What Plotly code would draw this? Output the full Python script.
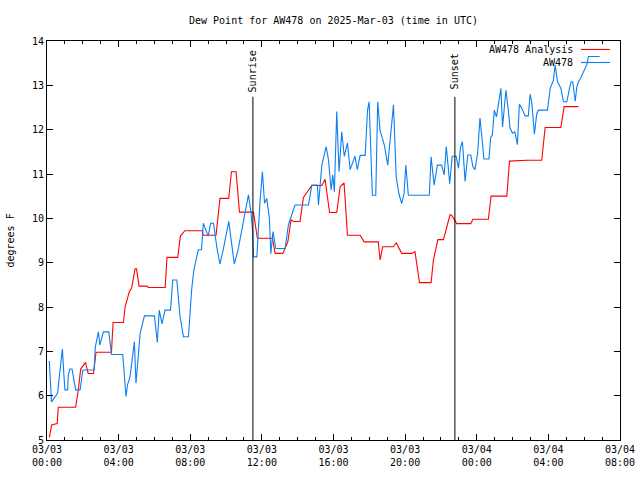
import pandas as pd
import plotly.graph_objects as go

BASE = pd.Timestamp("2025-03-03 00:00")

# Analysis (red): hours since 03/03 00:00 UTC, dew point (F)
analysis_hours = [0.13, 0.26, 0.57, 0.63, 1.6, 1.75, 1.88, 2.15, 2.3, 2.6, 2.65, 2.74, 3.6, 3.69, 4.27, 4.36,
                  4.6, 4.72, 4.92, 5.0, 5.14, 5.6, 5.65, 6.6, 6.7, 7.3, 7.45, 7.7, 8.68, 8.72, 9.44, 9.66,
                  10.15, 10.3, 10.56, 10.75, 11.53, 11.75, 12.59, 12.74, 13.17, 13.45, 13.63, 13.75, 14.13,
                  14.32, 14.79, 15.35, 15.53, 15.78, 16.18, 16.37, 16.59, 16.78, 17.49, 17.71, 18.5, 18.6,
                  18.75, 19.35, 19.5, 19.81, 20.37, 20.55, 20.8, 21.45, 21.58, 21.83, 22.14, 22.51, 22.6,
                  22.88, 23.67, 23.78, 24.65, 24.8, 25.68, 25.83, 26.8, 27.63, 27.82, 28.7, 28.88, 29.68]
analysis_vals = [5.06, 5.34, 5.37, 5.74, 5.74, 6.13, 6.6, 6.75, 6.5, 6.5, 6.68, 6.98, 6.98, 7.65, 7.65, 8.0,
                 8.35, 8.42, 8.86, 8.86, 8.47, 8.47, 8.44, 8.44, 9.12, 9.12, 9.6, 9.72, 9.72, 9.62, 9.62, 10.45,
                 10.45, 11.05, 11.05, 10.14, 10.14, 9.55, 9.55, 9.21, 9.21, 9.47, 9.97, 9.93, 9.93,
                 10.47, 10.74, 10.74, 10.88, 10.13, 10.13, 10.71, 10.8, 9.62, 9.62, 9.47, 9.47, 9.06,
                 9.36, 9.36, 9.45, 9.21, 9.21, 9.25, 8.55, 8.55, 9.06, 9.52, 9.52, 10.08, 10.07,
                 9.88, 9.88, 9.98, 9.98, 10.5, 10.5, 11.29, 11.31, 11.31, 12.05, 12.05, 12.52, 12.52]

# Observations (blue)
obs_hours = [0.13, 0.25, 0.5, 0.6, 0.69, 0.8, 0.86, 0.96, 1.0, 1.15, 1.19, 1.28, 1.4, 1.6, 1.85, 2.0, 2.63,
             2.7, 2.87, 2.95, 3.15, 3.45, 3.6, 4.23, 4.41, 4.5, 4.64, 4.88, 4.97, 5.2, 5.44, 6.0, 6.16,
             6.27, 6.42, 6.59, 6.9, 7.02, 7.25, 7.43, 7.62, 7.9, 8.08, 8.2, 8.45, 8.63, 8.73, 9.0, 9.14,
             9.3, 9.48, 9.66, 9.84, 10.15, 10.46, 10.67, 10.97, 11.25, 11.4, 11.49, 11.53, 11.72, 11.9,
             12.03, 12.15, 12.27, 12.42, 12.5, 12.62, 12.78, 13.3, 13.48, 13.85, 14.6, 14.79, 15.1, 15.16,
             15.35, 15.59, 15.72, 15.87, 15.96, 16.05, 16.18, 16.31, 16.46, 16.6, 16.78, 16.93, 17.2,
             17.33, 17.49, 17.77, 17.9, 17.99, 18.17, 18.36, 18.47, 18.6, 18.84, 19.03, 19.2, 19.35,
             19.5, 19.65, 19.81, 19.94, 20.04, 20.18, 21.35, 21.45, 21.62, 21.8, 22.04, 22.18, 22.3,
             22.49, 22.63, 22.85, 22.98, 23.1, 23.2, 23.35, 23.5, 23.67, 23.78, 23.9, 24.05, 24.18,
             24.3, 24.4, 24.68, 24.78, 24.87, 24.98, 25.1, 25.26, 25.35, 25.44, 25.54, 25.63, 25.76,
             25.86, 26.0, 26.13, 26.27, 26.38, 26.5, 26.7, 26.88, 26.98, 27.07, 27.22, 27.35, 27.44,
             27.95, 28.1, 28.28, 28.38, 28.51, 28.7, 28.84, 29.03, 29.18, 29.27, 29.36, 29.5, 29.59,
             29.68, 29.8, 29.96, 30.14, 30.24, 30.86]
obs_vals = [6.78, 5.86, 6.0, 6.07, 6.44, 6.8, 7.05, 6.36, 6.13, 6.13, 6.47, 6.6, 6.6, 6.13, 6.13, 6.58, 6.58,
            7.1, 7.44, 7.14, 7.44, 7.44, 6.93, 6.93, 5.98, 6.25, 6.43, 7.22, 6.28, 7.4, 7.8, 7.8, 7.2,
            7.93, 7.62, 7.93, 7.93, 8.61, 8.61, 7.78, 7.33, 7.33, 8.4, 8.83, 9.29, 9.29, 9.89, 9.6, 9.89,
            9.89, 9.36, 8.97, 9.29, 9.93, 8.97, 9.29, 9.93, 10.53, 10.1, 9.7, 9.13, 9.13, 10.41,
            11.05, 10.34, 10.45, 10.0, 9.2, 9.7, 9.32, 9.32, 9.85, 10.3, 10.3, 10.75, 10.75, 10.3,
            11.2, 11.62, 11.32, 10.64, 10.98, 10.6, 12.41, 11.05, 11.95, 11.4, 11.7, 11.1, 11.4,
            11.1, 11.42, 11.42, 12.44, 12.63, 10.52, 10.52, 12.63, 11.98, 11.65, 11.2, 11.95, 12.56,
            10.94, 10.56, 10.33, 10.56, 11.2, 10.52, 10.52, 11.39, 10.75, 11.2, 11.2, 10.98, 11.62,
            10.78, 11.4, 11.4, 11.13, 11.62, 11.73, 10.83, 11.43, 11.43, 11.17, 11.1, 11.47, 12.26,
            11.77, 11.34, 11.34, 11.83, 11.87, 12.44, 12.29, 12.7, 12.93, 12.06, 12.55, 12.89, 12.44,
            12.03, 11.92, 11.95, 11.66, 12.57, 12.5, 12.31, 12.31, 12.8, 12.63, 11.9, 12.36, 12.44,
            12.44, 12.93, 13.11, 13.46, 13.08, 12.93, 12.63, 12.63, 12.93, 13.08, 13.08, 12.64, 12.97,
            13.08, 13.16, 13.31, 13.46, 13.65, 13.65]

sun_events = ["Sunrise", "Sunset"]
sun_hours = [11.5, 22.78]

x_start = BASE
x_end = BASE + pd.Timedelta(hours=32)


def to_time(hours):
    return [BASE + pd.Timedelta(hours=h) for h in hours]


FONT = "DejaVu Sans Mono"
RED = "#ff0000"
BLUE = "#0a80f0"
fig = go.Figure()
fig.add_trace(go.Scatter(x=to_time(analysis_hours), y=analysis_vals, mode="lines",
                         line=dict(color=RED, width=1.1), name="AW478 Analysis", showlegend=False))
fig.add_trace(go.Scatter(x=to_time(obs_hours), y=obs_vals, mode="lines",
                         line=dict(color=BLUE, width=1.1), name="AW478", showlegend=False))

shapes = []
annotations = []
for name, h in zip(sun_events, sun_hours):
    t = BASE + pd.Timedelta(hours=h)
    shapes.append(dict(type="line", xref="x", yref="paper", x0=t, x1=t, y0=0, y1=0.86,
                       line=dict(color="black", width=1)))
    annotations.append(dict(xref="x", yref="paper", x=t, y=0.9236, text=name, textangle=-90,
                            showarrow=False, font=dict(family=FONT, size=10, color="black"),
                            xanchor="center", yanchor="middle"))

# Legend (gnuplot style: text then sample on the right)
legend_items = [("AW478 Analysis", RED, 49.5), ("AW478", BLUE, 62.5)]
for text, color, py in legend_items:
    yp = (440 - py) / 399
    annotations.append(dict(xref="paper", yref="paper", x=(575 - 47) / 573, y=yp, text=text,
                            showarrow=False, xanchor="right", yanchor="middle",
                            font=dict(family=FONT, size=10, color="black")))
    shapes.append(dict(type="line", xref="paper", yref="paper", x0=(581 - 47) / 573,
                       x1=(610 - 47) / 573, y0=yp, y1=yp, line=dict(color=color, width=1.1)))

annotations.append(dict(xref="paper", yref="paper", x=0, y=0.5, xshift=-37, text="degrees F",
                        textangle=-90, showarrow=False, xanchor="center", yanchor="middle",
                        font=dict(family=FONT, size=10, color="black")))

fig.update_layout(
    width=640, height=480,
    margin=dict(l=47, r=20, t=41, b=40, autoexpand=False),
    paper_bgcolor="white", plot_bgcolor="white",
    title=dict(text="Dew Point for AW478 on 2025-Mar-03 (time in UTC)", x=(47 + 620) / 2 / 640,
               xanchor="center", y=1 - 20 / 480, yanchor="middle", yref="container",
               font=dict(family=FONT, size=10, color="black")),
    font=dict(family=FONT, size=10, color="black"),
    shapes=shapes, annotations=annotations,
    showlegend=False,
)
fig.update_xaxes(
    type="date", range=[x_start, x_end], tick0=BASE, dtick=4 * 3600000,
    tickformat="%m/%d<br>%H:%M", ticks="inside", ticklen=6, tickcolor="black",
    minor=dict(ticks="inside", dtick=3600000, ticklen=3, tickcolor="black", showgrid=False),
    showline=True, linecolor="black", linewidth=1, mirror="allticks", automargin=False,
    showgrid=False, zeroline=False, tickfont=dict(family=FONT, size=10, color="black"),
)
fig.update_yaxes(
    range=[5, 14], dtick=1, tick0=5, ticks="inside", ticklen=6, tickcolor="black",
    showline=True, linecolor="black", linewidth=1, mirror="allticks", automargin=False,
    showgrid=False, zeroline=False, tickfont=dict(family=FONT, size=10, color="black"),
)

fig.write_html("out.html")
